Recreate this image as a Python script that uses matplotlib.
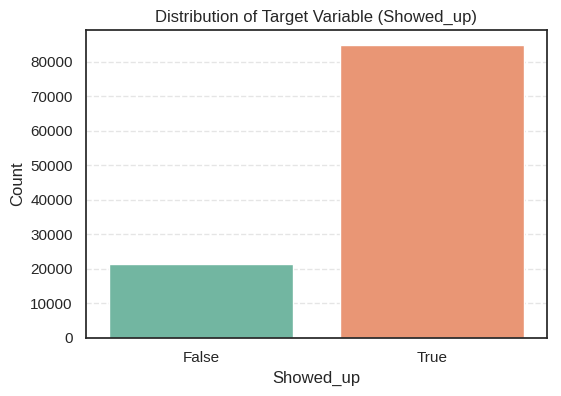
import numpy as np
import pandas as pd
import matplotlib
matplotlib.use("Agg")
import matplotlib.pyplot as plt
import seaborn as sns

categories = ["False", "True"]
counts = [21400, 85000]

sns.set_theme(style="white")
plt.rcParams['font.family'] = ['Liberation Sans', 'DejaVu Sans']

df = pd.DataFrame({"Showed_up": categories, "Count": counts})

fig = plt.figure(figsize=(5.61, 3.96), dpi=100)
ax = fig.add_axes([0.1533, 0.1465, 0.8217, 0.7777])
sns.barplot(data=df, x="Showed_up", y="Count", hue="Showed_up",
            palette="Set2", legend=False, ax=ax, zorder=2)
ax.grid(axis="y", linestyle="--", alpha=0.5, zorder=0)
ax.set_axisbelow(True)
ax.set_title("Distribution of Target Variable (Showed_up)")
ax.set_xlabel("Showed_up")
ax.set_ylabel("Count")
fig.savefig("out.png", dpi=100)
